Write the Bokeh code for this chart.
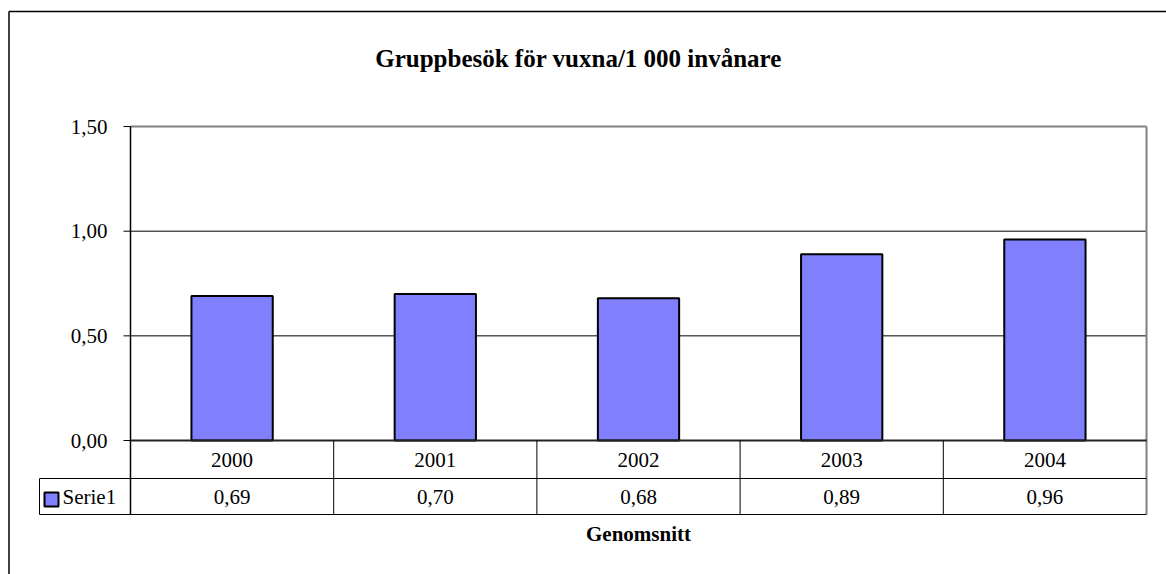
from bokeh.plotting import figure
from bokeh.models import Range1d
from bokeh.core.properties import value
from bokeh.embed import file_html
from bokeh.resources import INLINE

# ---- data ----
years = ["2000", "2001", "2002", "2003", "2004"]
values = [0.69, 0.70, 0.68, 0.89, 0.96]
value_labels = ["0,69", "0,70", "0,68", "0,89", "0,96"]
y_ticks = [0.0, 0.5, 1.0, 1.5]
y_tick_labels = ["0,00", "0,50", "1,00", "1,50"]
series_name = "Serie1"
title_text = "Gruppbesök för vuxna/1 000 invånare"
table_title = "Genomsnitt"

# ---- layout (page pixels) ----
W, H = 1166, 574
OX, OY = 0, 0               # canvas origin on the picture
X0, XSCALE = 130.0, 203.2   # picture px of x=0, px per category
Y0, YSCALE = 440.0, 209.3   # picture px of y=0, px per unit

def dx(px):
    return (px - X0) / XSCALE

def dy(py):
    return (Y0 - py) / YSCALE

p = figure(width=W, height=H, output_backend="svg", toolbar_location=None,
           x_range=Range1d(dx(OX), dx(OX + W)), y_range=Range1d(dy(OY + H), dy(OY)),
           min_border=0, min_border_left=0, min_border_right=0,
           min_border_top=0, min_border_bottom=0)
p.axis.visible = False
p.grid.visible = False
p.outline_line_color = None
p.background_fill_color = "white"
p.border_fill_color = "white"

FONT = value("Liberation Serif")
n = len(years)
xs = [i + 0.5 for i in range(n)]
ymax = max(y_ticks)

# outer chart border (left and top visible)
p.segment(x0=[dx(8.5), dx(8.5)], y0=[dy(11), dy(11)], x1=[dx(8.5), dx(OX + W + 5)],
          y1=[dy(OY + H + 5), dy(11)], line_color="black", line_width=1.5)

# title
p.text(x=[dx(578)], y=[dy(58)], text=[title_text], text_font=FONT,
       text_font_size="25px", text_font_style="bold", text_align="center",
       text_baseline="middle", text_color="black")

# gridlines
grid_vals = [t for t in y_ticks if 0 < t < ymax]
p.segment(x0=[0] * len(grid_vals), x1=[n] * len(grid_vals), y0=grid_vals, y1=grid_vals,
          line_color="black", line_width=1)

# plot border top/right (gray)
p.segment(x0=[0, n], x1=[n, n], y0=[ymax, ymax], y1=[ymax, dy(514)],
          line_color="#808080", line_width=2)

# bars
p.vbar(x=xs, top=values, bottom=0, width=0.4, fill_color="#8080FF",
       line_color="black", line_width=2)

# y axis line and ticks
p.segment(x0=[0], x1=[0], y0=[ymax], y1=[dy(514)], line_color="black", line_width=1.5)
p.segment(x0=[dx(123)] * len(y_ticks), x1=[0] * len(y_ticks), y0=y_ticks, y1=y_ticks,
          line_color="black", line_width=1)
p.text(x=[dx(107)] * len(y_ticks), y=y_ticks, text=y_tick_labels, text_font=FONT,
       text_font_size="21px", text_align="right", text_baseline="middle",
       text_color="black")

# zero line
p.segment(x0=[0], x1=[n], y0=[0], y1=[0], line_color="#222222", line_width=2)

# data table
row1 = dy(478)
row2 = dy(514)
p.segment(x0=[dx(39), dx(39)], x1=[n, n], y0=[row1, row2], y1=[row1, row2],
          line_color="black", line_width=1)
p.segment(x0=list(range(1, n)), x1=list(range(1, n)), y0=[0] * (n - 1), y1=[row2] * (n - 1),
          line_color="black", line_width=1)
p.segment(x0=[dx(39)], x1=[dx(39)], y0=[row1], y1=[row2], line_color="black", line_width=1)

p.text(x=xs, y=[dy(459)] * n, text=years, text_font=FONT, text_font_size="21px",
       text_align="center", text_baseline="middle", text_color="black")
p.text(x=xs, y=[dy(496)] * n, text=value_labels, text_font=FONT, text_font_size="21px",
       text_align="center", text_baseline="middle", text_color="black")

# legend key in table
p.rect(x=[dx(51)], y=[dy(499)], width=dx(58) - dx(44), height=dy(492) - dy(506),
       fill_color="#8080FF", line_color="black", line_width=2)
p.text(x=[dx(62)], y=[dy(496)], text=[series_name], text_font=FONT, text_font_size="21px",
       text_align="left", text_baseline="middle", text_color="black")

# table title
p.text(x=[n / 2], y=[dy(533)], text=[table_title], text_font=FONT, text_font_size="21px",
       text_font_style="bold", text_align="center", text_baseline="middle",
       text_color="black")

open("out.html", "w").write(file_html(p, INLINE))
